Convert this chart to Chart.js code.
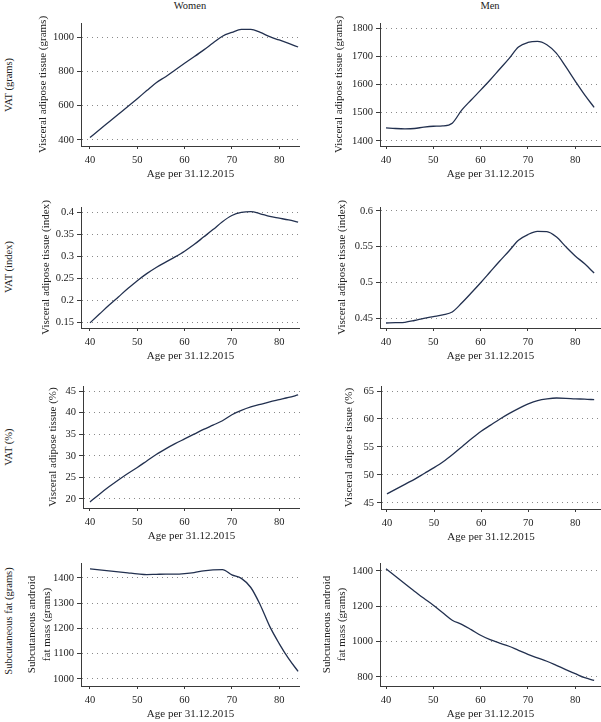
<!DOCTYPE html>
<html>
<head>
<meta charset="utf-8">
<script src="https://cdn.jsdelivr.net/npm/chart.js@4.4.0/dist/chart.umd.min.js"></script>
<style>
    body { margin: 0; background: #fff; }
    #page { position: relative; width: 601px; height: 722px; overflow: hidden; font-family: "Liberation Serif", serif; color: #222; }
    canvas { position: absolute; }
    .label { position: absolute; white-space: nowrap; font-size: 10.5px; transform: translate(-50%, -50%); }
    .row-label { transform: translate(-50%, -50%) rotate(-90deg); }
</style>
</head>
<body>
<div id="page"></div>
<script>
    const ages = [40, 42, 44, 46, 48, 50, 52, 54, 56, 58, 60, 62, 64, 66, 68, 70, 72, 74, 76, 78, 80, 82, 84];

    const womenVatGrams = [414, 460, 505, 550, 595, 641, 688, 734, 769, 808, 847, 885, 924, 965, 1005, 1027, 1045, 1045, 1027, 1002, 983, 963, 942];
    const menVatGrams = [1446, 1444, 1443, 1444, 1449, 1452, 1453, 1463, 1509, 1545, 1580, 1616, 1654, 1692, 1733, 1749, 1753, 1741, 1711, 1663, 1612, 1563, 1519];
    const womenVatIndex = [0.148, 0.168, 0.188, 0.207, 0.226, 0.244, 0.26, 0.274, 0.286, 0.298, 0.311, 0.326, 0.343, 0.36, 0.378, 0.392, 0.399, 0.401, 0.396, 0.39, 0.386, 0.382, 0.377];
    const menVatIndex = [0.443, 0.4435, 0.444, 0.4465, 0.4495, 0.452, 0.4545, 0.4585, 0.471, 0.485, 0.4995, 0.5145, 0.5295, 0.544, 0.559, 0.567, 0.5715, 0.5712, 0.5638, 0.55, 0.537, 0.526, 0.513];
    const womenVatPercent = [19.3, 21.1, 22.8, 24.4, 25.9, 27.3, 28.8, 30.3, 31.6, 32.8, 33.9, 35.0, 36.1, 37.1, 38.1, 39.5, 40.5, 41.3, 41.9, 42.5, 43.0, 43.5, 44.1];
    const menVatPercent = [46.6, 47.5, 48.4, 49.3, 50.3, 51.3, 52.4, 53.7, 55.1, 56.5, 57.8, 58.9, 60.0, 61.0, 61.9, 62.7, 63.3, 63.6, 63.75, 63.7, 63.6, 63.55, 63.45];
    const womenSubcutaneous = [1436, 1432, 1428, 1424, 1420, 1416, 1413, 1414, 1415, 1415, 1417, 1421, 1428, 1432, 1433, 1412, 1398, 1362, 1293, 1208, 1140, 1080, 1030];
    const menSubcutaneous = [1413, 1370, 1327, 1285, 1245, 1206, 1163, 1121, 1098, 1068, 1036, 1011, 992, 974, 951, 928, 908, 889, 866, 842, 819, 796, 781];

    const ageTicks = [40, 50, 60, 70, 80];
    const womenGramsTicks = [400, 600, 800, 1000];
    const menGramsTicks = [1400, 1500, 1600, 1700, 1800];
    const womenIndexTicks = [0.15, 0.2, 0.25, 0.3, 0.35, 0.4];
    const menIndexTicks = [0.45, 0.5, 0.55, 0.6];
    const womenPercentTicks = [20, 25, 30, 35, 40, 45];
    const menPercentTicks = [45, 50, 55, 60, 65];
    const womenSubTicks = [1000, 1100, 1200, 1300, 1400];
    const menSubTicks = [800, 1000, 1200, 1400];

    const columnTitles = [["Women", 190], ["Men", 490]];
    const rowLabels = [["VAT (grams)", 85], ["VAT (index)", 267], ["VAT (%)", 447], ["Subcutaneous fat (grams)", 621]];

    const xTitle = "Age per 31.12.2015";
    const lineColor = "#22304f";
    const axisColor = "#3a3a3a";
    const serif = "'Liberation Serif', serif";
    const yAxisWidth = 64;
    const xAxisHeight = 36;
    const padTop = 10;

    const panels = [
        { values: womenVatGrams, ticks: womenGramsTicks, yMin: 365, yMax: 1082, title: "Visceral adipose tissue (grams)", titlePad: 19.4, box: [81, 23, 300, 146], xMin: 38.1, xMax: 84.4 },
        { values: menVatGrams, ticks: menGramsTicks, yMin: 1382, yMax: 1818, title: "Visceral adipose tissue (grams)", titlePad: 16.4, box: [380, 23, 601, 146], xMin: 38.73, xMax: 85.45 },
        { values: womenVatIndex, ticks: womenIndexTicks, yMin: 0.1364, yMax: 0.4114, title: "Visceral adipose tissue (index)", titlePad: 22.4, box: [81, 207, 300, 328], xMin: 38.1, xMax: 84.4 },
        { values: menVatIndex, ticks: menIndexTicks, yMin: 0.436, yMax: 0.6056, title: "Visceral adipose tissue (index)", titlePad: 19.4, box: [380, 207, 601, 328], xMin: 38.73, xMax: 85.45 },
        { values: womenVatPercent, ticks: womenPercentTicks, yMin: 17.9, yMax: 46.16, title: "Visceral adipose tissue (%)", titlePad: 27.4, box: [83, 386, 300, 508], xMin: 38.52, xMax: 84.4 },
        { values: menVatPercent, ticks: menPercentTicks, yMin: 43.9, yMax: 65.9, title: "Visceral adipose tissue (%)", titlePad: 25.4, box: [381, 386, 601, 509], xMin: 38.73, xMax: 85.45 },
        { values: womenSubcutaneous, ticks: womenSubTicks, yMin: 972, yMax: 1459, title: ["Subcutaneous android", "fat mass (grams)"], titlePad: 7.6, box: [81, 563, 300, 686], xMin: 38.1, xMax: 84.4 },
        { values: menSubcutaneous, ticks: menSubTicks, yMin: 749, yMax: 1445, title: ["Subcutaneous android", "fat mass (grams)"], titlePad: 3.6, box: [380, 563, 601, 686], xMin: 38.73, xMax: 85.45 }
    ];

    const page = document.getElementById("page");

    columnTitles.forEach(([label, x]) => addLabel(label, x, 5, "label"));
    rowLabels.forEach(([label, y]) => addLabel(label, 8, y, "label row-label"));

    panels.forEach(panel => {
        const [left, top, right, bottom] = panel.box;
        const canvas = document.createElement("canvas");
        canvas.width = right - left + yAxisWidth;
        canvas.height = bottom - top + padTop + xAxisHeight;
        canvas.style.left = `${left - yAxisWidth}px`;
        canvas.style.top = `${top - padTop}px`;
        page.appendChild(canvas);

        new Chart(canvas, {
            type: "line",
            data: {
                datasets: [{
                    data: ages.map((age, i) => ({ x: age, y: panel.values[i] })),
                    borderColor: lineColor,
                    borderWidth: 1.3,
                    pointRadius: 0,
                    cubicInterpolationMode: "monotone",
                    fill: false
                }]
            },
            options: {
                responsive: false,
                animation: false,
                devicePixelRatio: 1,
                layout: { padding: { top: padTop, left: 0, right: 0, bottom: 0 } },
                plugins: { legend: { display: false }, tooltip: { enabled: false } },
                scales: {
                    x: {
                        type: "linear",
                        min: panel.xMin,
                        max: panel.xMax,
                        afterBuildTicks: scale => { scale.ticks = ageTicks.map(value => ({ value })); },
                        afterFit: scale => { scale.height = xAxisHeight; },
                        grid: { drawOnChartArea: false, drawTicks: true, tickLength: 3, tickColor: axisColor },
                        border: { color: axisColor, width: 1 },
                        ticks: { color: "#222", padding: 4.7, maxRotation: 0, font: { family: serif, size: 10.5 }, callback: value => String(value) },
                        title: { display: true, text: xTitle, color: "#222", padding: { top: 0, bottom: 1.4 }, font: { family: serif, size: 11 } }
                    },
                    y: {
                        type: "linear",
                        min: panel.yMin,
                        max: panel.yMax,
                        afterBuildTicks: scale => { scale.ticks = panel.ticks.map(value => ({ value })); },
                        afterFit: scale => { scale.width = yAxisWidth; },
                        grid: { color: "#8a8a8a", lineWidth: 1, tickLength: 4, tickColor: axisColor, tickWidth: 1 },
                        border: { color: axisColor, width: 1, dash: [1, 4] },
                        ticks: { color: "#222", padding: 3, font: { family: serif, size: 10.5 }, callback: value => String(value) },
                        title: {
                            display: true,
                            text: panel.title,
                            color: "#222",
                            padding: { top: panel.titlePad, bottom: 0 },
                            font: { family: serif, size: 11, lineHeight: Array.isArray(panel.title) ? 1.35 : 1.2 }
                        }
                    }
                }
            }
        });
    });

    function addLabel(text, x, y, className) {
        const div = document.createElement("div");
        div.className = className;
        div.textContent = text;
        div.style.left = `${x}px`;
        div.style.top = `${y}px`;
        page.appendChild(div);
    }
</script>
</body>
</html>
